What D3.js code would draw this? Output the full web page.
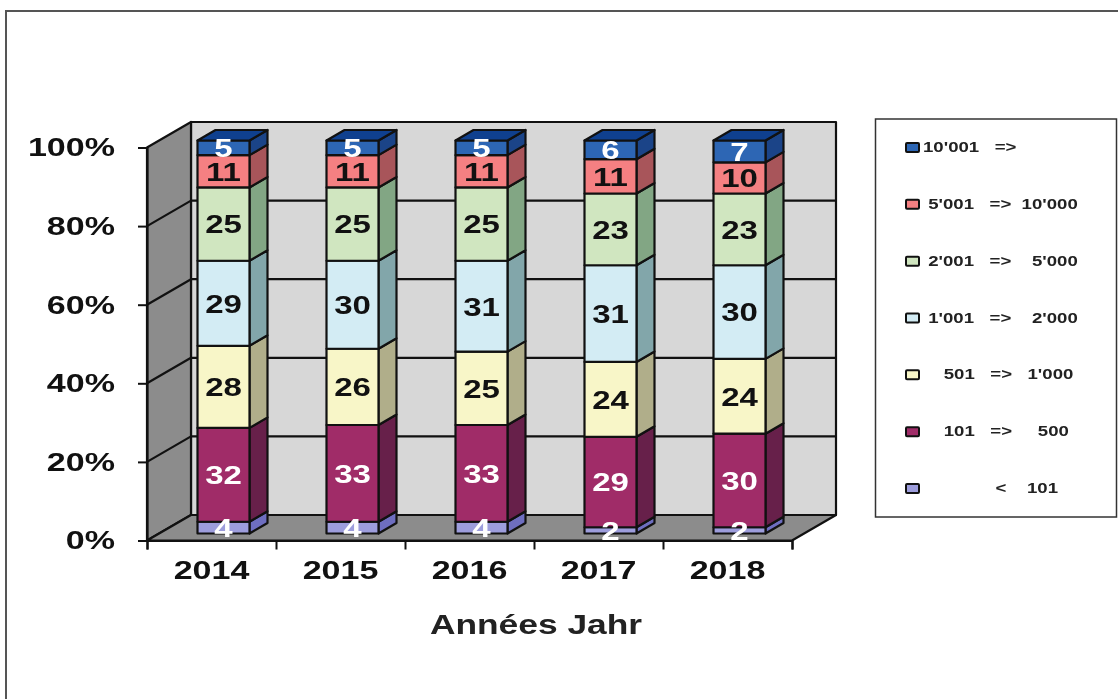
<!DOCTYPE html>
<html>
<head>
<meta charset="utf-8">
<script src="https://cdn.jsdelivr.net/npm/d3@7"></script>
<style>
  html, body { margin: 0; padding: 0; background: #fff; overflow: hidden; }
  svg { display: block; filter: blur(0.55px); }
  text { font-family: "Liberation Sans", Arial, sans-serif; font-weight: bold; white-space: pre; }
</style>
</head>
<body>
<svg id="js-svg" width="1118" height="699"></svg>
<script>
const years = ["2014", "2015", "2016", "2017", "2018"];
const bands = ["lt101", "b101", "b501", "b1001", "b2001", "b5001", "b10001"];
const lt101 = [4, 4, 4, 2, 2];
const b101 = [32, 33, 33, 29, 30];
const b501 = [28, 26, 25, 24, 24];
const b1001 = [29, 30, 31, 31, 30];
const b2001 = [25, 25, 25, 23, 23];
const b5001 = [11, 11, 11, 11, 10];
const b10001 = [5, 5, 5, 6, 7];
const legendLabels = ["10'001   =>", " 5'001   =>  10'000", " 2'001   =>    5'000", " 1'001   =>    2'000", "    501   =>   1'000", "    101   =>     500", "              <    101"];
const frontColors = ["#9d9ddc", "#a02c68", "#f8f6c8", "#d3ecf4", "#d0e6c0", "#f58082", "#2d66b4"];
const sideColors = ["#6e6ec0", "#67204a", "#b0ae8a", "#82a6aa", "#82a684", "#a8555a", "#1b4488"];
const labelColors = ["#fff", "#fff", "#111", "#111", "#111", "#111", "#fff"];
const topColor = "#0f408f";

const series = { lt101, b101, b501, b1001, b2001, b5001, b10001 };
const rows = years.map((year, i) => {
  const row = { year };
  bands.forEach((b) => (row[b] = series[b][i]));
  return row;
});

const stacked = d3.stack().keys(bands).offset(d3.stackOffsetExpand)(rows);

// oblique depth of the 3D box
const depthX = 44, depthY = -25.5;
const barInsetX = 12, barInsetY = -7;
const barDepthX = 18, barDepthY = -10.5;
const barWidth = 52;
const stretch = 1.31;

const x = d3.scaleBand().domain(years).range([147, 792]);
const y = d3.scaleLinear().domain([0, 1]).range([540.5, 147.5]);

const svg = d3.select("#js-svg");
const line = d3.line();

// outer frame, its right and bottom edges fall off the picture
svg.append("rect")
  .attr("x", 6).attr("y", 11).attr("width", 1200).attr("height", 800)
  .attr("fill", "#fff").attr("stroke", "#555").attr("stroke-width", 2);

const plot = svg.append("g").attr("stroke", "#111").attr("stroke-width", 2.2).attr("stroke-linejoin", "round");
const [x0, x1] = x.range();

// walls and floor
plot.append("path").attr("fill", "#d7d7d7")
  .attr("d", line([[x0 + depthX, y(0) + depthY], [x0 + depthX, y(1) + depthY], [x1 + depthX, y(1) + depthY], [x1 + depthX, y(0) + depthY]]) + "Z");
plot.append("path").attr("fill", "#8c8c8c")
  .attr("d", line([[x0, y(0)], [x0, y(1)], [x0 + depthX, y(1) + depthY], [x0 + depthX, y(0) + depthY]]) + "Z");
plot.append("path").attr("fill", "#8c8c8c")
  .attr("d", line([[x0, y(0)], [x0 + depthX, y(0) + depthY], [x1 + depthX, y(0) + depthY], [x1, y(0)]]) + "Z");

// gridlines
const pct = y.ticks(5);
plot.selectAll("path.grid").data(pct.filter((t) => t > 0 && t < 1)).join("path")
  .attr("class", "grid").attr("fill", "none")
  .attr("d", (t) => line([[x0, y(t)], [x0 + depthX, y(t) + depthY], [x1 + depthX, y(t) + depthY]]));

// axes
const stretchLabels = (sel) => sel.selectAll("text").each(function () {
  const t = d3.select(this);
  const tx = +t.attr("x") || 0;
  t.attr("transform", `translate(${tx},0) scale(${stretch},1)`).attr("x", 0);
});

const yAxis = svg.append("g").attr("transform", `translate(${x0},0)`)
  .call(d3.axisLeft(y).tickValues(pct).tickFormat(d3.format(".0%")).tickSize(9).tickPadding(23));
const xAxis = svg.append("g").attr("transform", `translate(0,${y(0)})`)
  .call(d3.axisBottom(d3.scaleLinear().domain([0, years.length]).range([x0, x1])).ticks(years.length).tickFormat("").tickSize(9));
const xLabels = svg.append("g").attr("transform", `translate(0,${y(0)})`)
  .call(d3.axisBottom(x).tickSize(0).tickPadding(20));
xLabels.select(".domain").remove();

[yAxis, xAxis].forEach((a) => {
  a.selectAll(".domain").attr("stroke", "#111").attr("stroke-width", 2.2);
  a.selectAll(".tick line").attr("stroke", "#111").attr("stroke-width", 2);
});
[yAxis, xAxis, xLabels].forEach((a) => a.attr("font-family", null));
yAxis.selectAll("text").attr("font-size", 26).attr("fill", "#111");
xLabels.selectAll("text").attr("font-size", 26).attr("fill", "#111");
stretchLabels(yAxis);
stretchLabels(xLabels);
xLabels.selectAll("text").attr("dy", "0.71em");

// bars, bottom segment first
const barX = (year) => x(year) + x.bandwidth() / 2 - barWidth / 2 + barInsetX;
const barY = d3.scaleLinear().domain([0, 1]).range([y(0) + barInsetY, y(1) + barInsetY]);

const layers = svg.selectAll("g.layer").data(stacked).join("g")
  .attr("class", "layer").attr("stroke", "#111").attr("stroke-width", 2.2).attr("stroke-linejoin", "round");

layers.each(function (s, li) {
  const g = d3.select(this);
  const segs = g.selectAll("g").data(s.map((d) => ({ d0: d[0], d1: d[1], year: d.data.year }))).join("g");
  segs.append("path").attr("fill", sideColors[li])
    .attr("d", (d) => {
      const r = barX(d.year) + barWidth;
      return line([[r, barY(d.d0)], [r, barY(d.d1)], [r + barDepthX, barY(d.d1) + barDepthY], [r + barDepthX, barY(d.d0) + barDepthY]]) + "Z";
    });
  segs.append("rect").attr("fill", frontColors[li])
    .attr("x", (d) => barX(d.year))
    .attr("y", (d) => barY(d.d1))
    .attr("width", barWidth)
    .attr("height", (d) => barY(d.d0) - barY(d.d1));
  if (li === bands.length - 1) {
    segs.append("path").attr("fill", topColor)
      .attr("d", (d) => {
        const l = barX(d.year), t = barY(1);
        return line([[l, t], [l + barDepthX, t + barDepthY], [l + barWidth + barDepthX, t + barDepthY], [l + barWidth, t]]) + "Z";
      });
  }
});

// value labels go above every segment
const labelLayer = svg.append("g");
stacked.forEach((s, li) => {
  labelLayer.selectAll(null).data(s).join("text")
    .attr("transform", (d) => `translate(${barX(d.data.year) + barWidth / 2},${barY((d[0] + d[1]) / 2)}) scale(1.27,1)`)
    .attr("text-anchor", "middle").attr("dy", "0.36em")
    .attr("font-size", 26).attr("fill", labelColors[li])
    .text((d) => d.data[bands[li]]);
});

// axis title
svg.append("text")
  .attr("transform", `translate(536,634) scale(${stretch},1)`)
  .attr("text-anchor", "middle").attr("font-size", 27).attr("fill", "#222")
  .text("Années Jahr");

// legend
const legend = svg.append("g");
legend.append("rect")
  .attr("x", 875.5).attr("y", 119).attr("width", 241).attr("height", 398)
  .attr("fill", "#fff").attr("stroke", "#333").attr("stroke-width", 1.5);
const legendY = d3.scalePoint().domain(d3.range(legendLabels.length)).range([147, 488]);
const legendItems = legend.selectAll("g").data(legendLabels).join("g")
  .attr("transform", (d, i) => `translate(906,${legendY(i)})`);
legendItems.append("rect")
  .attr("x", 0).attr("y", -4).attr("width", 13).attr("height", 9)
  .attr("rx", 1)
  .attr("fill", (d, i) => frontColors[bands.length - 1 - i])
  .attr("stroke", "#111").attr("stroke-width", 2);
legendItems.append("text")
  .attr("transform", `translate(17,0) scale(1.33,1)`)
  .attr("dy", "0.36em").attr("font-size", 14).attr("fill", "#222")
  .text((d) => d);
</script>
</body>
</html>
